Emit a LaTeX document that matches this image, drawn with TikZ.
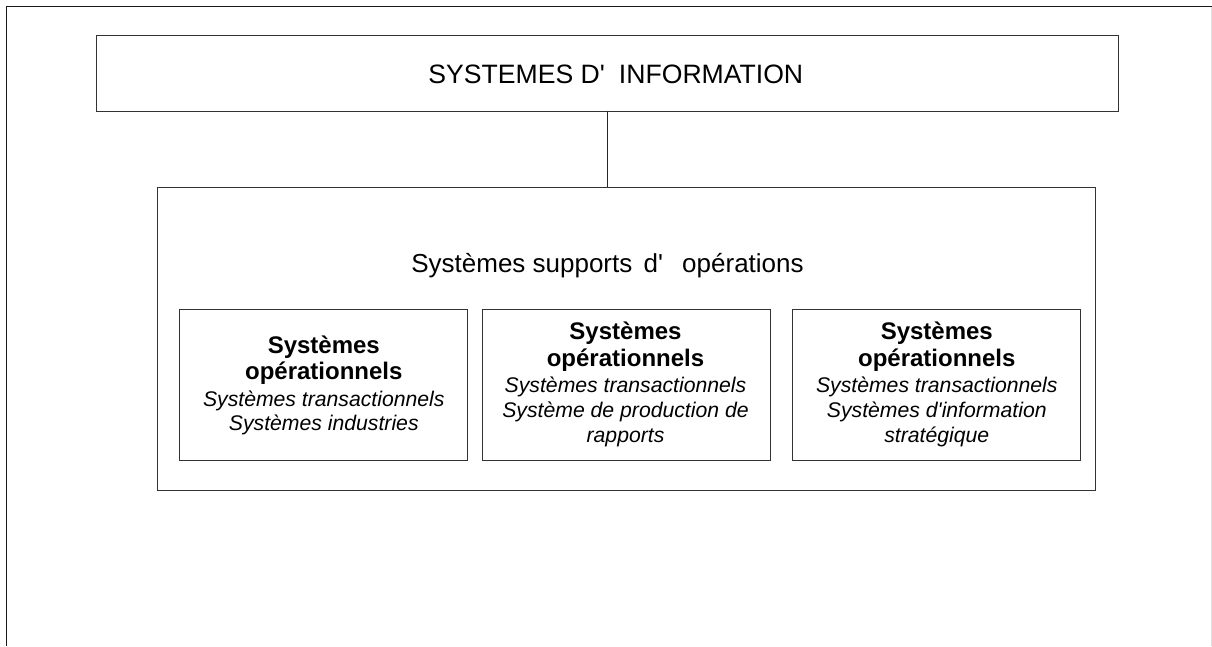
\documentclass[tikz,border=0pt]{standalone}
\usepackage{fontspec}
\setmainfont{Liberation Sans}[Ligatures=TeXOff]
\begin{document}
\begin{tikzpicture}[x=1pt,y=-1pt,
  box/.style={draw=black!80,line width=1pt,inner sep=0pt,outer sep=0pt},
  frameline/.style={draw=black!90,line width=1pt},
  bigtxt/.style={font=\fontsize{26}{30}\selectfont,inner sep=0pt,anchor=base},
  subbox/.style={box,minimum width=287.5pt,minimum height=150.5pt},
  boldline/.style={font=\fontsize{24}{26}\selectfont\bfseries,inner sep=0pt,anchor=base},
  itline/.style={font=\fontsize{21.2}{25}\selectfont\itshape,inner sep=0pt,anchor=base},
]
\useasboundingbox (0,0) rectangle (1212,646);
% page frame
\coordinate (fTL) at (6.5,6.5);
\coordinate (fTR) at (1212,6.5);
\coordinate (fBL) at (6.5,646);
\coordinate (rT) at (1211.5,7);
\coordinate (rB) at (1211.5,646);
\draw[frameline] (fBL) -- (fTL) -- (fTR);
\draw[black!12,line width=1pt] (rT) -- (rB);

% title box
\node[box,minimum width=1021.3pt,minimum height=75.6pt] (title) at (607.35,73.5) {};
\node[bigtxt,font=\fontsize{26.6}{30}\selectfont] (titletxt) at (615.8,83.3) {SYSTEMES D'\hspace{14pt}INFORMATION};

% outer support box
\node[box,minimum width=938pt,minimum height=303.5pt] (support) at (626.5,338.75) {};
\node[bigtxt] (supporttxt) at (607.5,272.7) {Systèmes supports\hspace{4pt} d'\hspace{12pt} opérations};

% connector
\draw[black!85,line width=1pt] (title.south) -- (title.south |- support.north);

% inner boxes
\node[subbox] (b1) at (323.6,384.75) {};
\node[subbox] (b2) at (626.6,384.75) {};
\node[subbox] (b3) at (936.4,384.75) {};

% box 1 text
\node[boldline] (b1l1) at (323.8,353.5) {Systèmes};
\node[boldline] (b1l2) at (323.8,379.5) {opérationnels};
\node[itline] (b1l3) at (323.8,406) {Systèmes transactionnels};
\node[itline] (b1l4) at (323.8,430.5) {Systèmes industries};

% box 2 text
\node[boldline] (b2l1) at (625.5,339.5) {Systèmes};
\node[boldline] (b2l2) at (625.5,366) {opérationnels};
\node[itline] (b2l3) at (625.5,392.5) {Systèmes transactionnels};
\node[itline] (b2l4) at (625.5,417) {Système de production de};
\node[itline] (b2l5) at (625.5,442) {rapports};

% box 3 text
\node[boldline] (b3l1) at (936.8,339.5) {Systèmes};
\node[boldline] (b3l2) at (936.8,366) {opérationnels};
\node[itline] (b3l3) at (936.8,392.5) {Systèmes transactionnels};
\node[itline] (b3l4) at (936.8,417) {Systèmes d'information};
\node[itline] (b3l5) at (936.8,442) {stratégique};
\end{tikzpicture}
\end{document}
